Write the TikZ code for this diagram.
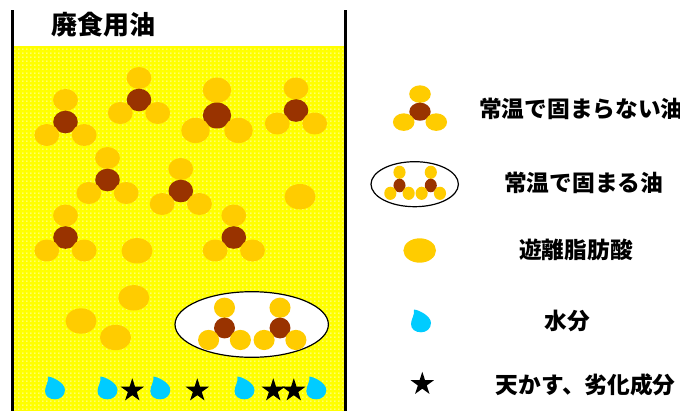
\documentclass[tikz,border=0pt]{standalone}
\usepackage{fontspec}
\setmainfont{Noto Sans CJK JP}
\usetikzlibrary{shapes.geometric,patterns}

\definecolor{oilbg}{HTML}{FFFF00}
\definecolor{acid}{HTML}{FFCC00}
\definecolor{glycerol}{HTML}{993300}
\definecolor{water}{HTML}{00CCFF}

% fine white dot texture of the oil
\pgfdeclarepatternformonly{oildots}{\pgfpointorigin}{\pgfpoint{4.4pt}{4.4pt}}{\pgfpoint{4.4pt}{4.4pt}}{%
  \pgfpathrectangle{\pgfpoint{1.5pt}{1.5pt}}{\pgfpoint{1.3pt}{1.3pt}}\pgfusepath{fill}}

\tikzset{
  % glycerol core with three fatty-acid chains
  triad/.pic={
    \fill[acid] (0,-22) ellipse [x radius=12.4, y radius=11];
    \fill[glycerol] (0,0) ellipse [x radius=12.3, y radius=11.3];
    \fill[acid] (-18.7,13) ellipse [x radius=12.4, y radius=11];
    \fill[acid] (18.7,13) ellipse [x radius=12.4, y radius=11];
  },
  % a drop of water
  drop/.pic={
    \fill[water] (-7,-11.5) .. controls (-2,-11) and (10,-5) .. (10,2)
      .. controls (10,8) and (5,11.3) .. (0,11.3)
      .. controls (-6,11.3) and (-10,8) .. (-10,3)
      .. controls (-10,-2) and (-6,-6) .. (-7,-11.5) -- cycle;
  },
  freeacid/.style={fill=acid},
  solidfat/.style={fill=white, draw=black, line width=1.2pt},
  wall/.style={line width=2.6pt},
  starnode/.style={star, star points=5, star point ratio=2.618, fill=black,
    inner sep=0pt, minimum size=24.5pt},
  legendtext/.style={font=\bfseries\fontsize{22.7}{27}\selectfont, anchor=west, inner sep=0pt},
  titletext/.style={font=\bfseries\fontsize{26}{30}\selectfont, anchor=west, inner sep=0pt},
}

\begin{document}
\begin{tikzpicture}[x=1pt, y=-1pt]
\useasboundingbox (0,0) rectangle (680,410);

% the oil in its vessel
\fill[oilbg] (14,45.5) rectangle (344.3,412);
\fill[pattern=oildots, pattern color=white] (14,45.5) rectangle (344.3,412);
\draw[wall] (12.7,10) -- (12.7,412);
\draw[wall] (345.6,10) -- (345.6,412);
\node[titletext] (title) at (51,25) {廃食用油};

% liquid triglycerides
\pic at (65.5,122) {triad};
\pic at (139,100) {triad};
\pic[scale=1.15] at (217,115.5) {triad};
\pic at (296,110.5) {triad};
\pic at (107.5,180) {triad};
\pic at (180.8,191) {triad};
\pic at (65.5,237.5) {triad};
\pic at (233.8,237.5) {triad};

% free fatty acids
\fill[freeacid] (300,196.7) ellipse [x radius=15.5, y radius=12.7];
\fill[freeacid] (137,250.8) ellipse [x radius=15.5, y radius=12.7];
\fill[freeacid] (133.8,297.8) ellipse [x radius=15.5, y radius=12.7];
\fill[freeacid] (81,321) ellipse [x radius=15.5, y radius=12.7];
\fill[freeacid] (115.5,337.5) ellipse [x radius=15.5, y radius=12.7];

% solid fat
\path[solidfat] (251.7,324.5) ellipse [x radius=76.7, y radius=32.8];
\pic[xscale=0.85, yscale=0.92] at (224.5,328) {triad};
\pic[xscale=0.85, yscale=0.92] at (280,328) {triad};

% water and debris at the bottom
\pic at (55,388) {drop};
\pic at (107.5,388) {drop};
\node[starnode] (s1) at (132.3,390.5) {};
\pic at (160.3,388) {drop};
\node[starnode] (s2) at (197.3,390.5) {};
\pic at (244.5,388) {drop};
\node[starnode] (s3) at (273.3,390.5) {};
\node[starnode] (s4) at (293.8,390.5) {};
\pic at (316.3,388) {drop};

% legend
\pic[xscale=0.87, yscale=0.8] at (420,111.7) {triad};
\node[legendtext] (l1) at (479,109) {常温で固まらない油};

\path[solidfat] (414.7,184.2) ellipse [x radius=43.7, y radius=22.5];
\pic[xscale=0.49, yscale=0.6] at (399.5,185.5) {triad};
\pic[xscale=0.49, yscale=0.6] at (430.8,185.5) {triad};
\node[legendtext] (l2) at (504,183) {常温で固まる油};

\fill[freeacid] (419.7,250.5) ellipse [x radius=16.3, y radius=12.2];
\node[legendtext] (l3) at (519,250) {遊離脂肪酸};

\pic at (421,321) {drop};
\node[legendtext] (l4) at (544.7,321) {水分};

\node[starnode] (s5) at (422.3,384) {};
\node[legendtext] (l5) at (495.7,384.5) {天かす、劣化成分};
\end{tikzpicture}
\end{document}
